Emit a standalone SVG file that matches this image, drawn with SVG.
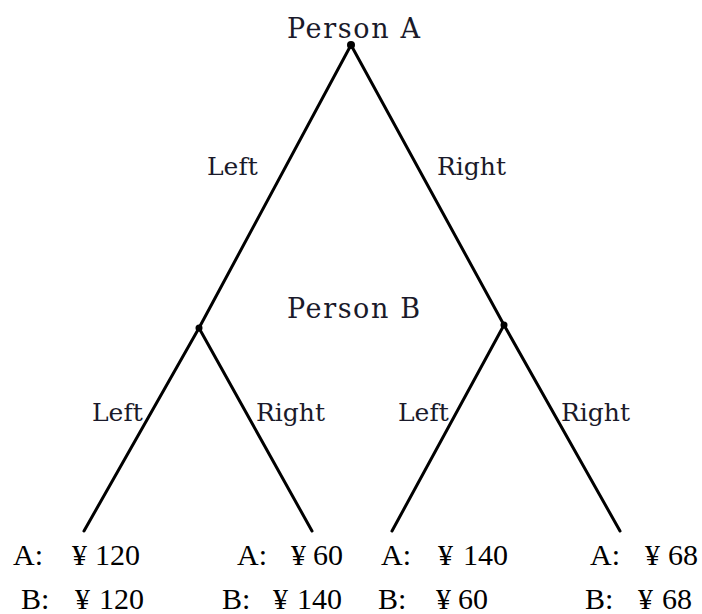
<svg xmlns="http://www.w3.org/2000/svg" width="702" height="614" viewBox="0 0 702 614">
<style>
.lbl{font-family:"DejaVu Serif","Liberation Serif",serif;font-size:25px;fill:#1a1a2a}
.big{font-size:27px}
.pay{font-family:"Liberation Serif","Times New Roman",serif;font-size:30px;fill:#000}
.edge{stroke:#000;stroke-width:3;fill:none;stroke-linecap:round}
</style>
<rect width="702" height="614" fill="#fff"/>
<g id="connectors">
<line class="edge" x1="351" y1="45" x2="199" y2="328"/>
<line class="edge" x1="351" y1="45" x2="504" y2="325"/>
<line class="edge" x1="199" y1="328" x2="84" y2="531"/>
<line class="edge" x1="199" y1="328" x2="312" y2="531"/>
<line class="edge" x1="504" y1="325" x2="392" y2="531"/>
<line class="edge" x1="504" y1="325" x2="620" y2="531"/>
<text class="lbl" x="207" y="175">Left</text>
<text class="lbl" x="437" y="175">Right</text>
<text class="lbl" x="92" y="421">Left</text>
<text class="lbl" x="256" y="421">Right</text>
<text class="lbl" x="398" y="421">Left</text>
<text class="lbl" x="561" y="421">Right</text>
</g>
<g id="personA">
<circle cx="351" cy="45" r="4" fill="#000"/>
<text class="lbl big" x="287" y="38" textLength="133" lengthAdjust="spacing">Person A</text>
</g>
<g id="personB">
<circle cx="199" cy="328" r="3.5" fill="#000"/>
<circle cx="504" cy="325" r="3.5" fill="#000"/>
<text class="lbl big" x="287" y="318" textLength="133" lengthAdjust="spacing">Person B</text>
</g>
<g id="leaf1">
<text class="pay" x="13" y="565">A:<tspan x="72">¥</tspan><tspan x="95">120</tspan></text>
<text class="pay" x="21" y="609">B:<tspan x="75">¥</tspan><tspan x="99">120</tspan></text>
</g>
<g id="leaf2">
<text class="pay" x="237" y="565">A:<tspan x="291">¥</tspan><tspan x="313">60</tspan></text>
<text class="pay" x="222" y="609">B:<tspan x="273">¥</tspan><tspan x="297">140</tspan></text>
</g>
<g id="leaf3">
<text class="pay" x="381" y="565">A:<tspan x="438">¥</tspan><tspan x="463">140</tspan></text>
<text class="pay" x="378" y="609">B:<tspan x="436">¥</tspan><tspan x="458">60</tspan></text>
</g>
<g id="leaf4">
<text class="pay" x="590" y="565">A:<tspan x="645">¥</tspan><tspan x="668">68</tspan></text>
<text class="pay" x="585" y="609">B:<tspan x="638">¥</tspan><tspan x="662">68</tspan></text>
</g>
</svg>
